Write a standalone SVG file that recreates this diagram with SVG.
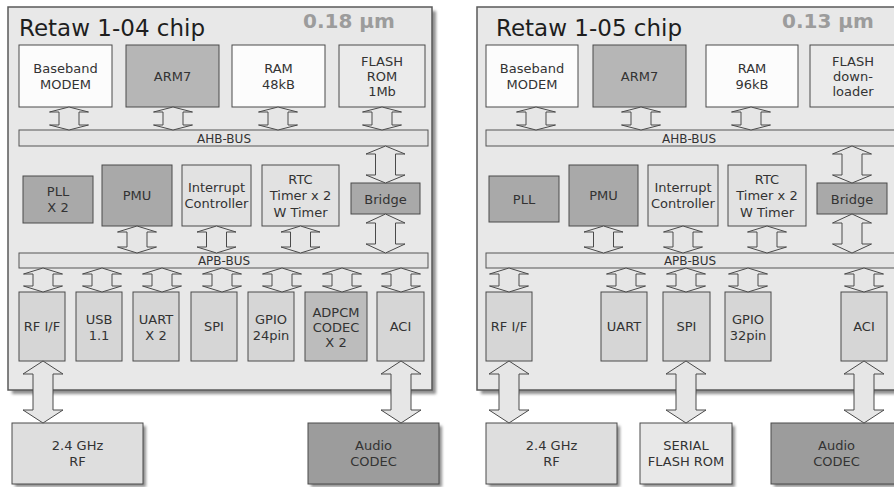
<svg xmlns="http://www.w3.org/2000/svg" width="894" height="487" viewBox="0 0 894 487">
<defs>
<filter id="sh" x="-5%" y="-5%" width="115%" height="115%"><feGaussianBlur stdDeviation="1.5"/></filter>
<style>
.chip{fill:#e8e8e8;stroke:#5a5a5a;stroke-width:1.5}
.shd{fill:#8f8f8f;filter:url(#sh)}
rect.b{stroke:#4a4a4a;stroke-width:1}
.white{fill:#fcfcfc}
.arm{fill:#b6b6b6}
.flash{fill:#ebebeb}
.dark{fill:#a9a9a9}
.light{fill:#e2e2e2}
.per{fill:#d6d6d6}
.adp{fill:#bcbcbc}
.bus{fill:#e4e4e4;stroke:#555;stroke-width:1}
.ext{fill:#dedede}
.ext2{fill:#e8e8e8}
.aud{fill:#9c9c9c}
text{font-family:"DejaVu Sans","Liberation Sans",sans-serif;fill:#333;font-size:13px;text-anchor:middle}
text.title{font-size:23px;text-anchor:start;fill:#1e1e1e}
text.um{font-size:20px;font-weight:bold;fill:#9c9c9c;text-anchor:start}
text.busl{font-size:12px}
#connectors polygon{fill:#e6e6e6;stroke:#4a4a4a;stroke-width:1;stroke-linejoin:miter}
</style>
</defs>

<!-- chips -->
<g id="chip-104">
<rect class="shd" x="12" y="11" width="424" height="383"/>
<rect class="chip" x="8" y="7" width="424" height="383"/>
<text class="title" x="19" y="36">Retaw 1-04 chip</text>
<text class="um" x="303" y="28">0.18 µm</text>
</g>
<g id="chip-105">
<rect class="shd" x="481" y="11" width="424" height="383"/>
<rect class="chip" x="477" y="7" width="424" height="383"/>
<text class="title" x="496" y="36">Retaw 1-05 chip</text>
<text class="um" x="782" y="28">0.13 µm</text>
</g>

<!-- left chip nodes -->
<g id="l-baseband"><rect class="b white" x="19" y="45" width="93" height="62"/><text x="65.5" y="73">Baseband</text><text x="65.5" y="89">MODEM</text></g>
<g id="l-arm7"><rect class="b arm" x="126" y="45" width="93" height="62"/><text x="172.5" y="81">ARM7</text></g>
<g id="l-ram"><rect class="b white" x="232" y="45" width="93" height="62"/><text x="278.5" y="73">RAM</text><text x="278.5" y="89">48kB</text></g>
<g id="l-flash"><rect class="b flash" x="339" y="45" width="86" height="62"/><text x="382" y="66">FLASH</text><text x="382" y="81">ROM</text><text x="382" y="96">1Mb</text></g>
<g id="l-ahb"><rect class="bus" x="19" y="130" width="409" height="16"/><text class="busl" x="224" y="142.5">AHB-BUS</text></g>
<g id="l-pll"><rect class="b dark" x="23" y="176" width="70" height="47"/><text x="58" y="196">PLL</text><text x="58" y="212">X 2</text></g>
<g id="l-pmu"><rect class="b dark" x="102" y="165" width="70" height="61"/><text x="137" y="200">PMU</text></g>
<g id="l-intc"><rect class="b light" x="182" y="165" width="69" height="61"/><text x="216.5" y="191.5">Interrupt</text><text x="216.5" y="208">Controller</text></g>
<g id="l-rtc"><rect class="b light" x="262" y="165" width="77" height="61"/><text x="300.5" y="183.5">RTC</text><text x="300.5" y="200">Timer x 2</text><text x="300.5" y="216.5">W Timer</text></g>
<g id="l-bridge"><rect class="b dark" x="351" y="183" width="69" height="31"/><text x="385.5" y="203.5">Bridge</text></g>
<g id="l-apb"><rect class="bus" x="19" y="253" width="409" height="15"/><text class="busl" x="224" y="265">APB-BUS</text></g>
<g id="l-rfif"><rect class="b per" x="19" y="292" width="46" height="69"/><text x="42" y="331">RF I/F</text></g>
<g id="l-usb"><rect class="b per" x="76" y="292" width="46" height="69"/><text x="99" y="324">USB</text><text x="99" y="339.5">1.1</text></g>
<g id="l-uart"><rect class="b per" x="133" y="292" width="46" height="69"/><text x="156" y="324">UART</text><text x="156" y="339.5">X 2</text></g>
<g id="l-spi"><rect class="b per" x="191" y="292" width="46" height="69"/><text x="214" y="331">SPI</text></g>
<g id="l-gpio"><rect class="b per" x="248" y="292" width="46" height="69"/><text x="271" y="324">GPIO</text><text x="271" y="339.5">24pin</text></g>
<g id="l-adpcm"><rect class="b adp" x="305" y="292" width="62" height="69"/><text x="336" y="316.5">ADPCM</text><text x="336" y="331.5">CODEC</text><text x="336" y="346.5">X 2</text></g>
<g id="l-aci"><rect class="b per" x="377" y="292" width="47" height="69"/><text x="400.5" y="331">ACI</text></g>
<g id="l-rf"><rect class="shd" x="15" y="426" width="131" height="61"/><rect class="b ext" x="12" y="423" width="131" height="61"/><text x="77.5" y="450">2.4 GHz</text><text x="77.5" y="465.5">RF</text></g>
<g id="l-audio"><rect class="shd" x="311" y="426" width="131" height="61"/><rect class="b aud" x="308" y="423" width="131" height="61"/><text x="373.5" y="450">Audio</text><text x="373.5" y="465.5">CODEC</text></g>

<!-- right chip nodes -->
<g id="r-baseband"><rect class="b white" x="486" y="45" width="92" height="62"/><text x="532" y="73">Baseband</text><text x="532" y="89">MODEM</text></g>
<g id="r-arm7"><rect class="b arm" x="593" y="45" width="93" height="62"/><text x="639.5" y="81">ARM7</text></g>
<g id="r-ram"><rect class="b white" x="706" y="45" width="92" height="62"/><text x="752" y="73">RAM</text><text x="752" y="89">96kB</text></g>
<g id="r-flash"><rect class="b flash" x="810" y="45" width="86" height="62"/><text x="853" y="66">FLASH</text><text x="853" y="81">down-</text><text x="853" y="96">loader</text></g>
<g id="r-ahb"><rect class="bus" x="486" y="130" width="409" height="16"/><text class="busl" x="689" y="142.5">AHB-BUS</text></g>
<g id="r-pll"><rect class="b dark" x="489" y="176" width="70" height="46"/><text x="524" y="203.5">PLL</text></g>
<g id="r-pmu"><rect class="b dark" x="569" y="165" width="69" height="61"/><text x="603.5" y="200">PMU</text></g>
<g id="r-intc"><rect class="b light" x="648" y="165" width="70" height="61"/><text x="683" y="191.5">Interrupt</text><text x="683" y="208">Controller</text></g>
<g id="r-rtc"><rect class="b light" x="728" y="165" width="78" height="61"/><text x="767" y="183.5">RTC</text><text x="767" y="200">Timer x 2</text><text x="767" y="216.5">W Timer</text></g>
<g id="r-bridge"><rect class="b dark" x="817" y="183" width="70" height="31"/><text x="852" y="203.5">Bridge</text></g>
<g id="r-apb"><rect class="bus" x="486" y="253" width="409" height="15"/><text class="busl" x="690" y="265">APB-BUS</text></g>
<g id="r-rfif"><rect class="b per" x="486" y="292" width="46" height="69"/><text x="509" y="331">RF I/F</text></g>
<g id="r-uart"><rect class="b per" x="601" y="292" width="46" height="69"/><text x="624" y="331">UART</text></g>
<g id="r-spi"><rect class="b per" x="663" y="292" width="47" height="69"/><text x="686.5" y="331">SPI</text></g>
<g id="r-gpio"><rect class="b per" x="725" y="292" width="46" height="69"/><text x="748" y="324">GPIO</text><text x="748" y="339.5">32pin</text></g>
<g id="r-aci"><rect class="b per" x="841" y="292" width="46" height="69"/><text x="864" y="331">ACI</text></g>
<g id="r-rf"><rect class="shd" x="489" y="426" width="131" height="61"/><rect class="b ext" x="486" y="423" width="131" height="61"/><text x="551.5" y="450">2.4 GHz</text><text x="551.5" y="465.5">RF</text></g>
<g id="r-serial"><rect class="shd" x="643" y="426" width="92" height="61"/><rect class="b ext2" x="640" y="423" width="92" height="61"/><text x="686" y="450">SERIAL</text><text x="686" y="465.5">FLASH ROM</text></g>
<g id="r-audio"><rect class="shd" x="774" y="426" width="131" height="61"/><rect class="b aud" x="771" y="423" width="131" height="61"/><text x="836.5" y="450">Audio</text><text x="836.5" y="465.5">CODEC</text></g>

<g id="connectors">
<!-- left top -->
<polygon points="69,107 88.5,112 79,112 79,125 88.5,125 69,130 49.5,125 59,125 59,112 49.5,112"/>
<polygon points="173,107 192.5,112 183,112 183,125 192.5,125 173,130 153.5,125 163,125 163,112 153.5,112"/>
<polygon points="278,107 297.5,112 288,112 288,125 297.5,125 278,130 258.5,125 268,125 268,112 258.5,112"/>
<polygon points="382,107 401.5,112 392,112 392,125 401.5,125 382,130 362.5,125 372,125 372,112 362.5,112"/>
<polygon points="385.5,146 405,154 395.5,154 395.5,175 405,175 385.5,183 366,175 375.5,175 375.5,154 366,154"/>
<polygon points="385.5,214 405,223 395.5,223 395.5,244 405,244 385.5,253 366,244 375.5,244 375.5,223 366,223"/>
<polygon points="137,226 156.5,232 147,232 147,247 156.5,247 137,253 117.5,247 127,247 127,232 117.5,232"/>
<polygon points="216.5,226 236,232 226.5,232 226.5,247 236,247 216.5,253 197,247 206.5,247 206.5,232 197,232"/>
<polygon points="300.5,226 320,232 310.5,232 310.5,247 320,247 300.5,253 281,247 290.5,247 290.5,232 281,232"/>
<polygon points="43,268 62.5,274 53,274 53,286 62.5,286 43,292 23.5,286 33,286 33,274 23.5,274"/>
<polygon points="102,268 121.5,274 112,274 112,286 121.5,286 102,292 82.5,286 92,286 92,274 82.5,274"/>
<polygon points="162,268 181.5,274 172,274 172,286 181.5,286 162,292 142.5,286 152,286 152,274 142.5,274"/>
<polygon points="222,268 241.5,274 232,274 232,286 241.5,286 222,292 202.5,286 212,286 212,274 202.5,274"/>
<polygon points="282,268 301.5,274 292,274 292,286 301.5,286 282,292 262.5,286 272,286 272,274 262.5,274"/>
<polygon points="342,268 361.5,274 352,274 352,286 361.5,286 342,292 322.5,286 332,286 332,274 322.5,274"/>
<polygon points="401,268 420.5,274 411,274 411,286 420.5,286 401,292 381.5,286 391,286 391,274 381.5,274"/>
<polygon points="43,361 63,374 53,374 53,410 63,410 43,423 23,410 33,410 33,374 23,374"/>
<polygon points="401,361 421,374 411,374 411,410 421,410 401,423 381,410 391,410 391,374 381,374"/>
<!-- right -->
<polygon points="536,107 555.5,112 546,112 546,125 555.5,125 536,130 516.5,125 526,125 526,112 516.5,112"/>
<polygon points="641,107 660.5,112 651,112 651,125 660.5,125 641,130 621.5,125 631,125 631,112 621.5,112"/>
<polygon points="751,107 770.5,112 761,112 761,125 770.5,125 751,130 731.5,125 741,125 741,112 731.5,112"/>
<polygon points="852,146 871.5,154 862,154 862,175 871.5,175 852,183 832.5,175 842,175 842,154 832.5,154"/>
<polygon points="852,214 871.5,223 862,223 862,244 871.5,244 852,253 832.5,244 842,244 842,223 832.5,223"/>
<polygon points="603.5,226 623,232 613.5,232 613.5,247 623,247 603.5,253 584,247 593.5,247 593.5,232 584,232"/>
<polygon points="683,226 702.5,232 693,232 693,247 702.5,247 683,253 663.5,247 673,247 673,232 663.5,232"/>
<polygon points="767,226 786.5,232 777,232 777,247 786.5,247 767,253 747.5,247 757,247 757,232 747.5,232"/>
<polygon points="509,268 528.5,274 519,274 519,286 528.5,286 509,292 489.5,286 499,286 499,274 489.5,274"/>
<polygon points="626,268 645.5,274 636,274 636,286 645.5,286 626,292 606.5,286 616,286 616,274 606.5,274"/>
<polygon points="686,268 705.5,274 696,274 696,286 705.5,286 686,292 666.5,286 676,286 676,274 666.5,274"/>
<polygon points="748,268 767.5,274 758,274 758,286 767.5,286 748,292 728.5,286 738,286 738,274 728.5,274"/>
<polygon points="864,268 883.5,274 874,274 874,286 883.5,286 864,292 844.5,286 854,286 854,274 844.5,274"/>
<polygon points="509,361 529,374 519,374 519,410 529,410 509,423 489,410 499,410 499,374 489,374"/>
<polygon points="686,361 706,374 696,374 696,410 706,410 686,423 666,410 676,410 676,374 666,374"/>
<polygon points="864,361 884,374 874,374 874,410 884,410 864,423 844,410 854,410 854,374 844,374"/>
</g>
</svg>
